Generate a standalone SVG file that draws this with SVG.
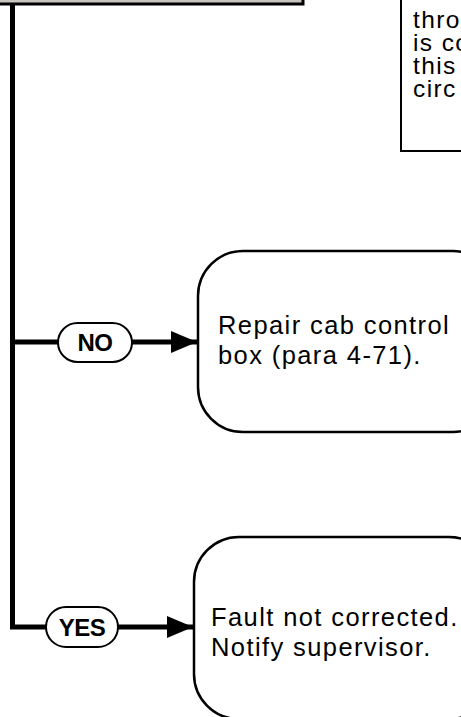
<svg xmlns="http://www.w3.org/2000/svg" width="461" height="717" viewBox="0 0 461 717">
<style>
.line{fill:none;stroke:#000;stroke-width:5}
.box{fill:#fff;stroke:#000;stroke-width:2.5}
.pill{fill:#fff;stroke:#000;stroke-width:2}
.t{font-family:"Liberation Sans",Arial,sans-serif;font-size:25.5px;letter-spacing:1.4px;fill:#000}
.n{font-family:"Liberation Sans",Arial,sans-serif;font-size:24.5px;letter-spacing:1.4px;fill:#000}
.lab{font-family:"Liberation Sans",Arial,sans-serif;font-size:24px;font-weight:bold;fill:#000;text-anchor:middle;letter-spacing:-0.5px}
</style>
<defs>
<marker id="arr" markerWidth="26" markerHeight="22" refX="26" refY="11" orient="auto" markerUnits="userSpaceOnUse">
<path d="M0,0 L26,11 L0,22 Z" fill="#000"/>
</marker>
</defs>
<rect width="461" height="717" fill="#fff"/>
<g id="top-box">
<rect x="-5" y="-20" width="308" height="24" fill="#c9c3bd" stroke="#000" stroke-width="3"/>
</g>
<g id="note-box">
<rect x="401" y="-20" width="80" height="171" fill="#fff" stroke="#000" stroke-width="2"/>
<text class="n" x="413" y="28">thro<tspan x="413" dy="23">is co</tspan><tspan x="413" dy="23">this</tspan><tspan x="413" dy="23">circ</tspan></text>
</g>
<g id="connectors">
<path class="line" d="M12.5,4 V627 H46"/>
<path class="line" d="M12.5,342 H58"/>
<path class="line" d="M132,342 H197" marker-end="url(#arr)"/>
<path class="line" d="M118,627 H193" marker-end="url(#arr)"/>
</g>
<g id="no-label">
<rect class="pill" x="58" y="323" width="74" height="39" rx="19.5"/>
<text class="lab" x="95" y="351">NO</text>
</g>
<g id="yes-label">
<rect class="pill" x="46" y="607" width="72" height="40" rx="20"/>
<text class="lab" x="82" y="636">YES</text>
</g>
<g id="repair-box">
<rect class="box" x="198" y="251" width="300" height="181" rx="45"/>
<text class="t" x="218" y="334">Repair cab control</text>
<text class="t" x="218" y="364">box (para 4-71).</text>
</g>
<g id="fault-box">
<rect class="box" x="194" y="537" width="300" height="182" rx="45"/>
<text class="t" x="211" y="626">Fault not corrected.</text>
<text class="t" x="211" y="656">Notify supervisor.</text>
</g>
</svg>
